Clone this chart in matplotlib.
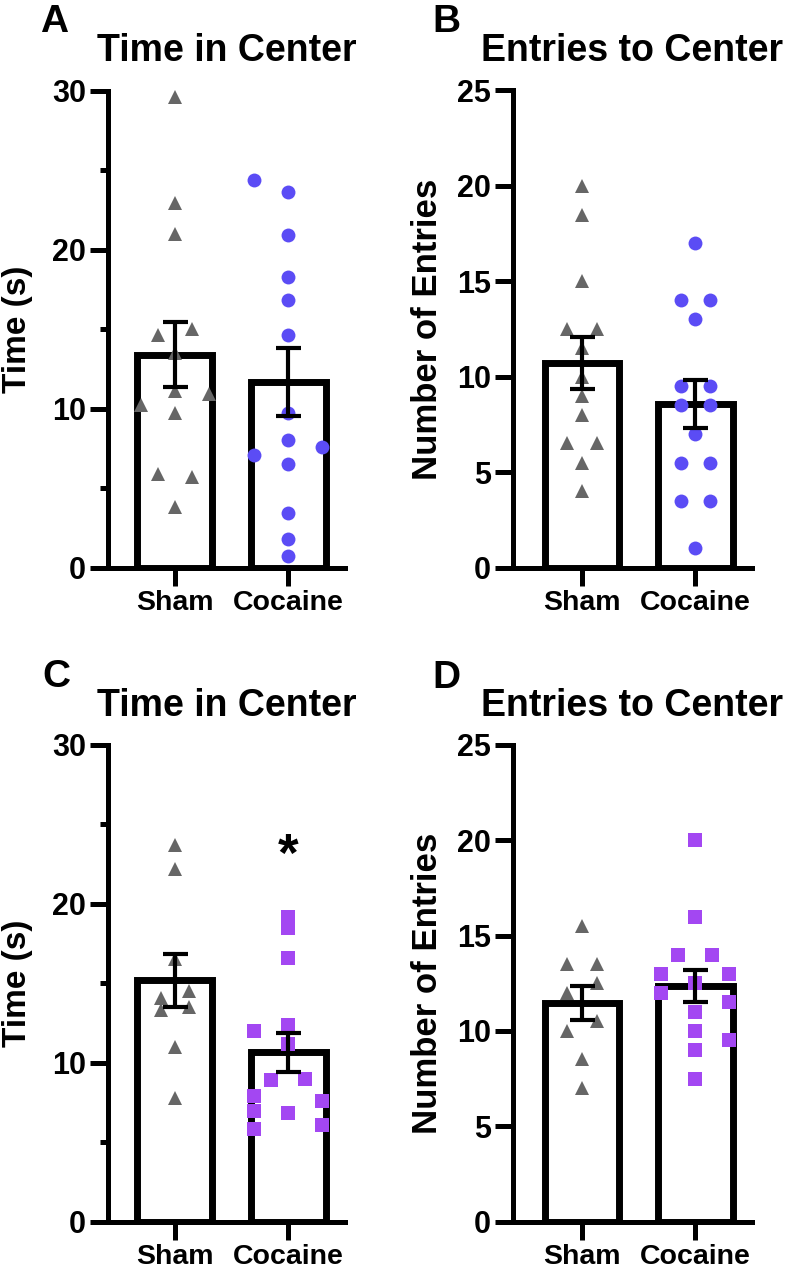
import numpy as np
import matplotlib
matplotlib.use("Agg")
import matplotlib.pyplot as plt
from matplotlib.ticker import MultipleLocator

plt.rcParams['font.family'] = ['Liberation Sans', 'DejaVu Sans']
plt.rcParams['font.weight'] = 'bold'

# ---------------- data ----------------
groups = ["Sham", "Cocaine"]

# Panel A: Time in Center (s)
a_sham = [29.6, 22.9, 21.0, 15.0, 14.6, 13.5, 11.1, 10.9, 10.2, 9.7, 5.9, 5.7, 3.8]
a_coc = [24.4, 23.6, 20.9, 18.3, 16.8, 14.6, 9.7, 8.0, 7.6, 7.1, 6.5, 3.4, 1.8, 0.7]
# Panel B: Entries to Center
b_sham = [20, 18.5, 15, 12.5, 12.5, 11.5, 10, 9, 8, 6.5, 6.5, 5.5, 4]
b_coc = [17, 14, 14, 13, 9.5, 9.5, 8.5, 8.5, 7, 5.5, 5.5, 3.5, 3.5, 1]
# Panel C: Time in Center (s)
c_sham = [23.7, 22.2, 16.5, 14.5, 14.1, 13.5, 13.3, 11.0, 7.8]
c_coc = [19.2, 18.5, 16.6, 12.4, 12.0, 11.2, 9.0, 8.9, 7.9, 7.6, 6.95, 6.8, 6.1, 5.85]
# Panel D: Entries to Center
d_sham = [15.5, 13.5, 13.5, 12.5, 12, 10.5, 10, 8.5, 7]
d_coc = [20, 16, 14, 14, 13, 13, 12.5, 12, 11.5, 11, 10, 9.5, 9, 7.5]

# horizontal scatter slots (layout of the dot plot)
a_sham_slot = [0, 0, 0, 1, -1, 0, 0, 2, -2, 0, -1, 1, 0]
a_coc_slot = [-2, 0, 0, 0, 0, 0, 0, 0, 2, -2, 0, 0, 0, 0]
b_sham_slot = [0, 0, 0, -1, 1, 0, 0, 0, 0, -1, 1, 0, 0]
b_coc_slot = [0, -1, 1, 0, -1, 1, -1, 1, 0, -1, 1, -1, 1, 0]
c_sham_slot = [0, 0, 0, 1, -1, 1, -1, 0, 0]
c_coc_slot = [0, 0, 0, 0, -2, 0, 1, -1, -2, 2, -2, 0, 2, -2]
d_sham_slot = [0, -1, 1, 1, -1, 1, -1, 0, 0]
d_coc_slot = [0, 0, -1, 1, -2, 2, 0, -2, 2, 0, 0, 2, 0, 0]

titles = ["Time in Center", "Entries to Center", "Time in Center", "Entries to Center"]
ylabels = ["Time (s)", "Number of Entries", "Time (s)", "Number of Entries"]
letters = ["A", "B", "C", "D"]
y_max = [30, 25, 30, 25]
y_major = [10, 5, 10, 5]
sig_marks = ["", "", "*", ""]

# ---------------- style ----------------
GRAY = "#666666"
BLUE = "#5B4CF5"
PURPLE = "#A347F2"

panels = [
    (a_sham, a_coc, a_sham_slot, a_coc_slot, 0.15, 0.15, "o", BLUE),
    (b_sham, b_coc, b_sham_slot, b_coc_slot, 0.13, 0.125, "o", BLUE),
    (c_sham, c_coc, c_sham_slot, c_coc_slot, 0.125, 0.15, "s", PURPLE),
    (d_sham, d_coc, d_sham_slot, d_coc_slot, 0.13, 0.15, "s", PURPLE),
]

W, H = 791, 1272
rects = [
    [108 / W, 1 - 567.5 / H, 237 / W, 477 / H],
    [513 / W, 1 - 567.5 / H, 239 / W, 477 / H],
    [108 / W, 1 - 1221.5 / H, 237 / W, 476.5 / H],
    [513 / W, 1 - 1221.5 / H, 239 / W, 476.5 / H],
]
xlims = [(-0.59, 1.50), (-0.61, 1.50), (-0.59, 1.50), (-0.61, 1.50)]
ylabel_x = [-0.316, -0.29, -0.316, -0.29]
ylabel_size = [24, 25, 24, 25]
letter_pos = [(40 / W, 1 - 32.5 / H), (432 / W, 1 - 32 / H),
              (42 / W, 1 - 687 / H), (432 / W, 1 - 688 / H)]

fig = plt.figure(figsize=(W / 100, H / 100), dpi=100)

for i, (sham, coc, s_slot, c_slot, s_step, c_step, cmark, ccol) in enumerate(panels):
    ax = fig.add_axes(rects[i])
    xs = np.arange(len(groups))
    data = [np.array(sham, float), np.array(coc, float)]
    means = [d.mean() for d in data]
    sems = [d.std(ddof=1) / np.sqrt(len(d)) for d in data]

    ax.bar(xs, means, width=0.66, color="white", edgecolor="black",
           linewidth=5, zorder=1)

    ax.plot(xs[0] + np.array(s_slot) * s_step, data[0], linestyle="none",
            marker="^", markersize=10.5, color=GRAY, markeredgewidth=0,
            zorder=2, clip_on=False)
    ax.plot(xs[1] + np.array(c_slot) * c_step, data[1], linestyle="none",
            marker=cmark, markersize=10, color=ccol,
            markeredgewidth=0, zorder=2, clip_on=False)

    ax.errorbar(xs, means, yerr=sems, fmt="none", ecolor="black",
                elinewidth=3, capsize=9, capthick=3, zorder=3)

    if sig_marks[i]:
        ax.text(xs[1], 22.1, sig_marks[i], ha="center", va="baseline",
                fontsize=38, fontweight="bold", color="black")

    ax.set_xlim(*xlims[i])
    ax.set_ylim(0, y_max[i])
    ax.set_xticks(xs)
    ax.set_xticklabels(groups)
    ax.yaxis.set_major_locator(MultipleLocator(y_major[i]))
    if y_major[i] == 10:
        ax.yaxis.set_minor_locator(MultipleLocator(5))

    for side in ["top", "right"]:
        ax.spines[side].set_visible(False)
    for side in ["left", "bottom"]:
        ax.spines[side].set_linewidth(3.6)
        ax.spines[side].set_capstyle("projecting")

    ax.tick_params(axis="y", which="major", length=13, width=3.6, pad=3,
                   labelsize=22)
    ax.tick_params(axis="y", which="minor", length=6, width=3.6)
    ax.tick_params(axis="x", which="major", length=13, width=3.6, pad=3,
                   labelsize=20.5)
    for lab in ax.get_xticklabels() + ax.get_yticklabels():
        lab.set_fontweight("bold")

    ax.set_title(titles[i], fontsize=27, fontweight="bold", pad=21)
    ax.set_ylabel(ylabels[i], fontsize=ylabel_size[i], fontweight="bold")
    ax.yaxis.set_label_coords(ylabel_x[i], 0.5)

    fig.text(letter_pos[i][0], letter_pos[i][1], letters[i], fontsize=28,
             fontweight="bold", ha="left", va="baseline")

fig.savefig("out.png", dpi=100)
